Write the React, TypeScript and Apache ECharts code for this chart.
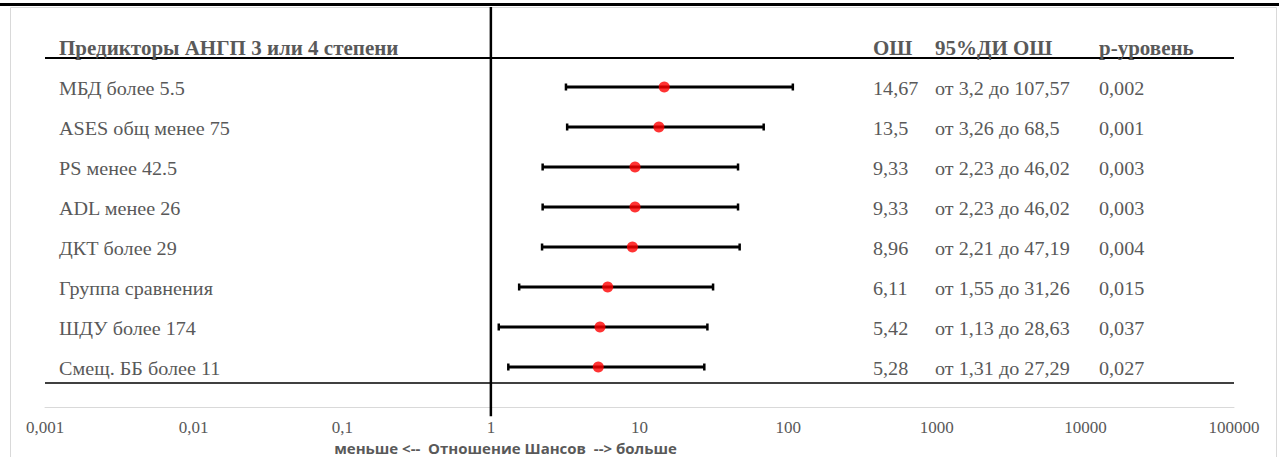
import React, { useEffect, useRef } from "react";
import * as echarts from "echarts";

const predictors = [
  "МБД более 5.5",
  "ASES общ менее 75",
  "PS менее 42.5",
  "ADL менее 26",
  "ДКТ более 29",
  "Группа сравнения",
  "ШДУ более 174",
  "Смещ. ББ более 11",
];
const oddsRatio = [14.67, 13.5, 9.33, 9.33, 8.96, 6.11, 5.42, 5.28];
const ciLower = [3.2, 3.26, 2.23, 2.23, 2.21, 1.55, 1.13, 1.31];
const ciUpper = [107.57, 68.5, 46.02, 46.02, 47.19, 31.26, 28.63, 27.29];
const pValues = ["0,002", "0,001", "0,003", "0,003", "0,004", "0,015", "0,037", "0,027"];
const headers = ["Предикторы АНГП 3 или 4 степени", "ОШ", "95%ДИ ОШ", "р-уровень"];
const xTickLabels = ["0,001", "0,01", "0,1", "1", "10", "100", "1000", "10000", "100000"];
const axisTitle = "меньше <--  Отношение Шансов  --> больше";

const GRAY = "#595959";
const SERIF = '"Liberation Serif", "Times New Roman", serif';
const ROW_FONT = 18;
const ROW_SCALE = 1.12;
const HEAD_FONT = 20;
const HEAD_SCALE = 1.05;
const COLS = [59, 873, 935, 1099];

const fmt = (v: number) => String(v).replace(".", ",");
const rowY = (i: number) => predictors.length - i;

export default function App() {
  const ref = useRef<HTMLDivElement>(null);
  useEffect(() => {
    if (!ref.current) return;
    const chart = echarts.init(ref.current, null, { renderer: "svg" });
    const ciData = predictors.map((_, i) => [ciLower[i], ciUpper[i], rowY(i)]);
    const orData = predictors.map((_, i) => [oddsRatio[i], rowY(i)]);
    const tableData = predictors.map((_, i) => [i, rowY(i)]);

    chart.setOption({
      animation: false,
      backgroundColor: "#ffffff",
      grid: { left: 45, right: 45, top: 7, height: 400, containLabel: false, outerBoundsMode: "none" },
      xAxis: {
        type: "log",
        logBase: 10,
        min: 0.001,
        max: 100000,
        splitNumber: 8,
        axisLine: { show: true, lineStyle: { color: "#d9d9d9", width: 1 } },
        axisTick: { show: false },
        splitLine: { show: false },
        axisLabel: {
          color: GRAY,
          fontFamily: SERIF,
          fontSize: 17,
          margin: 12,
          showMinLabel: true,
          showMaxLabel: true,
          hideOverlap: false,
          formatter: (v: number) => xTickLabels[Math.round(Math.log10(v) + 3)] ?? "",
        },
        name: axisTitle,
        nameLocation: "middle",
        nameGap: 31,
        nameTextStyle: {
          color: GRAY,
          fontFamily: '"Open Sans", sans-serif',
          fontWeight: "bold",
          fontSize: 15,
          padding: [0, 268, 0, 0],
        },
      },
      yAxis: { type: "value", min: 0, max: 10, show: false },
      graphic: [
        {
          type: "rect",
          shape: { x: 10.5, y: 7.5, width: 1266, height: 470 },
          style: { fill: "none", stroke: "#d9d9d9", lineWidth: 1 },
          silent: true,
        },
        {
          type: "line",
          shape: { x1: 0, y1: 4.5, x2: 1279, y2: 4.5 },
          style: { stroke: "#000", lineWidth: 3 },
          silent: true,
        },
      ],
      series: [
        {
          type: "line",
          name: "ref",
          data: [
            [1, 10],
            [1, -0.23],
          ],
          clip: false,
          symbol: "none",
          silent: true,
          lineStyle: { color: "#000", width: 2.5 },
          markLine: {
            silent: true,
            symbol: "none",
            label: { show: false },
            data: [
              { yAxis: 8.72, lineStyle: { color: "#000", width: 2, type: "solid" } },
              { yAxis: 0.6, lineStyle: { color: "#000", width: 1.5, type: "solid" } },
            ],
          },
        },
        {
          type: "custom",
          name: "ci",
          data: ciData,
          encode: { x: [0, 1], y: 2 },
          renderItem: (params: any, api: any) => {
            const y = api.value(2);
            const p1 = api.coord([api.value(0), y]);
            const p2 = api.coord([api.value(1), y]);
            const h = 3.5;
            const cap = { stroke: "#000", lineWidth: 2.5 };
            return {
              type: "group",
              children: [
                { type: "line", shape: { x1: p1[0], y1: p1[1], x2: p2[0], y2: p2[1] }, style: { stroke: "#000", lineWidth: 3 } },
                { type: "line", shape: { x1: p1[0], y1: p1[1] - h, x2: p1[0], y2: p1[1] + h }, style: cap },
                { type: "line", shape: { x1: p2[0], y1: p2[1] - h, x2: p2[0], y2: p2[1] + h }, style: cap },
              ],
            };
          },
          z: 3,
        },
        {
          type: "scatter",
          name: "OR",
          data: orData,
          symbol: "circle",
          symbolSize: 11,
          itemStyle: { color: "#ff0000" },
          z: 4,
        },
        {
          type: "custom",
          name: "table",
          data: tableData,
          encode: { y: 1 },
          renderItem: (params: any, api: any) => {
            const i = api.value(0);
            const y = api.coord([1, api.value(1)])[1] + 2;
            const base = { fill: GRAY, fontFamily: SERIF, fontSize: ROW_FONT, verticalAlign: "middle", align: "left" };
            const texts = [
              predictors[i],
              fmt(oddsRatio[i]),
              `от ${fmt(ciLower[i])} до ${fmt(ciUpper[i])}`,
              pValues[i],
            ];
            return {
              type: "group",
              children: texts.map((t, k) => ({ type: "text", x: COLS[k], y, scaleX: ROW_SCALE, style: { ...base, text: t } })),
            };
          },
          z: 5,
        },
        {
          type: "custom",
          name: "header",
          data: [[0, 9]],
          encode: { y: 1 },
          renderItem: (params: any, api: any) => {
            const y = api.coord([1, api.value(1)])[1] + 1;
            const base = { fill: GRAY, fontFamily: SERIF, fontSize: HEAD_FONT, fontWeight: "bold", verticalAlign: "middle", align: "left" };
            return {
              type: "group",
              children: headers.map((t, k) => ({ type: "text", x: COLS[k], y, scaleX: HEAD_SCALE, style: { ...base, text: t } })),
            };
          },
          z: 5,
        },
      ],
    });
    return () => chart.dispose();
  }, []);
  return <div ref={ref} style={{ position: "absolute", left: 0, top: 0, width: 1279, height: 457 }} />;
}
